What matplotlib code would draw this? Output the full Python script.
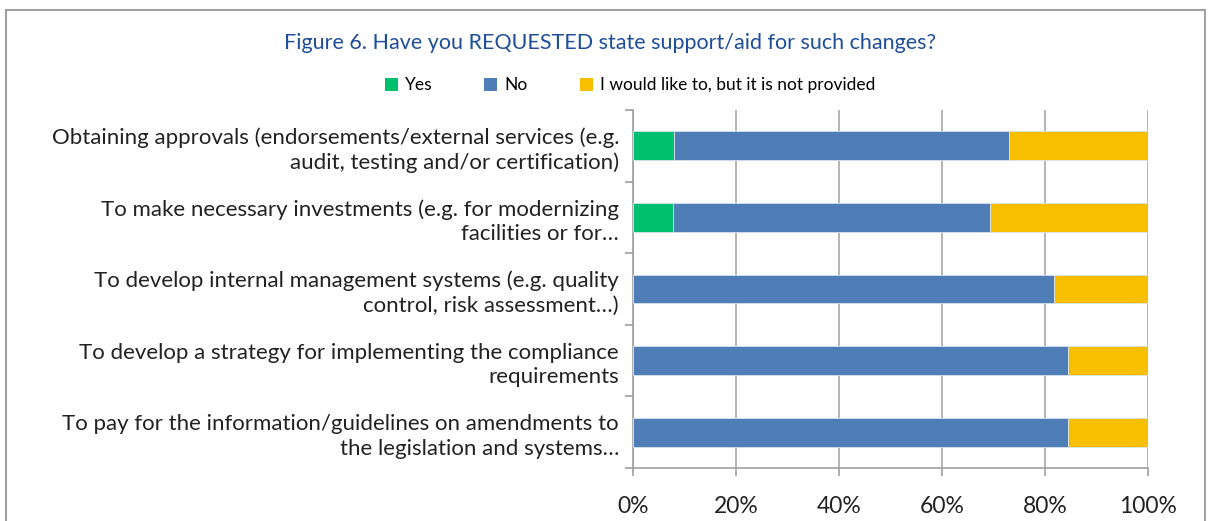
import numpy as np
import matplotlib.pyplot as plt
from matplotlib.patches import Rectangle, Patch

plt.rcParams['font.family'] = ['Lato', 'DejaVu Sans']

categories = [
    "Obtaining approvals (endorsements/external services (e.g.\naudit, testing and/or certification)",
    "To make necessary investments (e.g. for modernizing\nfacilities or for…",
    "To develop internal management systems (e.g. quality\ncontrol, risk assessment…)",
    "To develop a strategy for implementing the compliance\nrequirements",
    "To pay for the information/guidelines on amendments to\nthe legislation and systems…",
]
yes = [8.0, 7.7, 0.0, 0.0, 0.0]
no = [65.0, 61.7, 81.7, 84.4, 84.4]
would_like = [27.0, 30.6, 18.3, 15.6, 15.6]

series_names = ["Yes", "No", "I would like to, but it is not provided"]
colors = ["#00C070", "#4F7DB5", "#F8BE00"]

fig = plt.figure(figsize=(12.11, 5.21), dpi=100)
ax = fig.add_axes([0.5227, 0.1017, 0.4253, 0.6873])

y = np.arange(len(categories))
left = np.zeros(len(categories))
for vals, name, c in zip([yes, no, would_like], series_names, colors):
    ax.barh(y, vals, left=left, height=0.4, color=c, edgecolor='#D9E2EE', linewidth=0.6, label=name, zorder=3)
    left += np.array(vals)

ax.set_xlim(0, 100)
ax.set_ylim(len(categories) - 0.5, -0.5)
ax.set_xticks(np.arange(0, 101, 20))
ax.set_xticklabels([f"{v}%" for v in range(0, 101, 20)], fontsize=16.5, color='#222222')
ax.set_yticks(y)
ax.set_yticklabels(categories, fontsize=16, color='#222222', ha='right', multialignment='right', linespacing=1.3)
ax.set_yticks(np.arange(-0.5, len(categories)), minor=True)
ax.tick_params(axis='y', which='major', length=0, pad=10)
ax.tick_params(axis='y', which='minor', length=6, color='#A0A0A0', width=1.2)
ax.tick_params(axis='x', length=6, color='#A0A0A0', width=1.2, pad=14)
ax.grid(axis='x', color='#A8A8A8', linewidth=1.2, zorder=0)
for s in ['top', 'right']:
    ax.spines[s].set_visible(False)
for s in ['left', 'bottom']:
    ax.spines[s].set_color('#A0A0A0')
    ax.spines[s].set_linewidth(1.2)

fig.text(0.504, 0.918, "Figure 6. Have you REQUESTED state support/aid for such changes?",
         ha='center', va='center', fontsize=15.5, color='#1F4E9A')

handles = [Patch(facecolor=c, edgecolor='none') for c in colors]
fig.legend(handles, series_names, loc='center', bbox_to_anchor=(0.52, 0.836), ncol=3, frameon=False,
           fontsize=12.5, handlelength=0.75, handleheight=0.75, handletextpad=0.4, columnspacing=3.0)

fig.patches.append(Rectangle((0.005, -0.05), 0.99, 1.03, transform=fig.transFigure,
                             fill=False, edgecolor='#A0A0A0', linewidth=1.5))

fig.savefig('out.png', dpi=100)
